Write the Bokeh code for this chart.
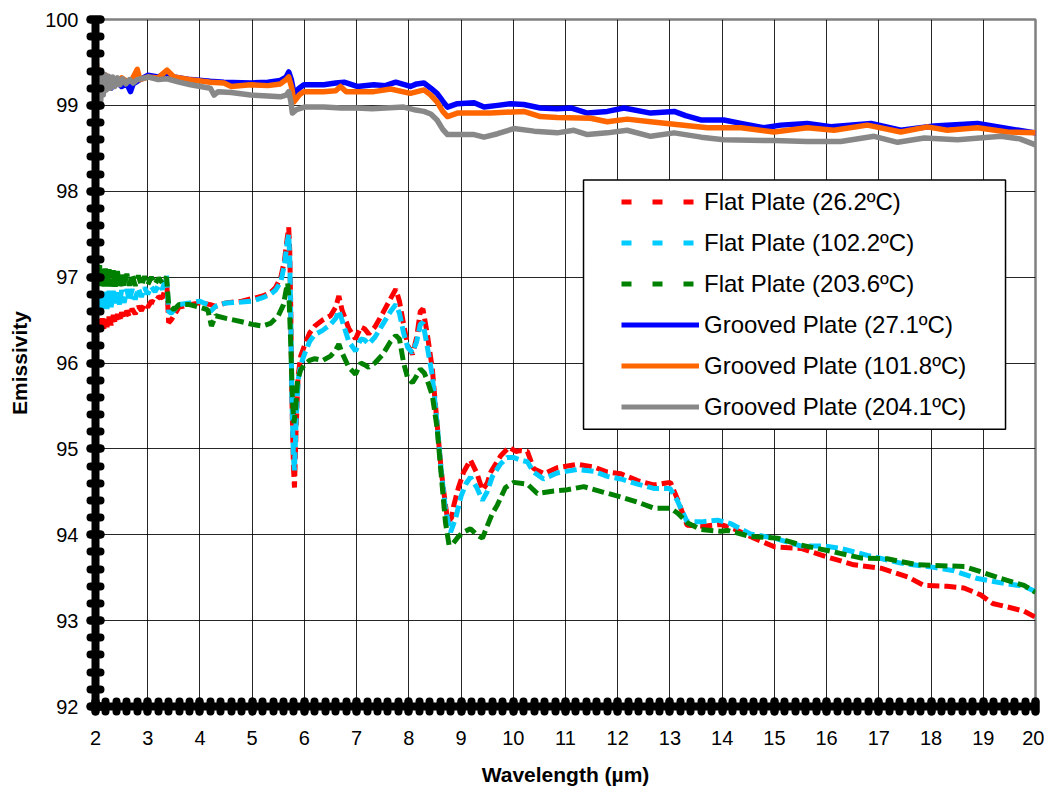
from bokeh.plotting import figure
from bokeh.models import Range1d, SingleIntervalTicker, Legend, LegendItem, BoxAnnotation
from bokeh.embed import file_html
from bokeh.resources import INLINE

# ---------------- data ----------------
wl_flat_26 = [2.00, 2.02, 2.04, 2.06, 2.08, 2.10, 2.13, 2.16, 2.19, 2.22, 2.26, 2.30, 2.34, 2.38, 2.42,
              2.46, 2.50, 2.55, 2.60, 2.65, 2.70, 2.76, 2.82, 2.88, 2.94, 3.00, 3.07, 3.14, 3.21, 3.28,
              3.33, 3.36, 3.40, 3.45, 3.60, 3.80, 4.00, 4.20, 4.30, 4.50, 4.80,
              5.00, 5.20, 5.35, 5.45, 5.55, 5.62, 5.67, 5.70, 5.72, 5.74, 5.76, 5.79, 5.81, 5.84,
              5.88, 5.93, 6.00, 6.10, 6.20, 6.35, 6.50, 6.60, 6.66, 6.72, 6.85, 6.98, 7.08, 7.15,
              7.23, 7.35, 7.50, 7.65, 7.75, 7.82, 7.90, 7.98, 8.07, 8.15, 8.22, 8.27, 8.35, 8.45,
              8.54, 8.62, 8.70, 8.75, 8.82, 8.86, 8.95, 9.05, 9.18, 9.30, 9.41, 9.50, 9.57, 9.76,
              9.92, 10.05, 10.14, 10.27, 10.39, 10.59, 10.84, 11.23, 11.54, 11.80, 12.06, 12.38,
              12.69, 12.90, 13.01, 13.14, 13.33, 13.65, 13.97, 14.22, 14.61, 15.00, 15.51, 16.02,
              16.52, 17.04, 17.55, 17.86, 18.31, 18.63, 18.95, 19.18, 19.46, 19.78, 20.00]
em_flat_26 = [96.52, 96.35, 96.52, 96.36, 96.50, 96.37, 96.52, 96.40, 96.53, 96.42, 96.54, 96.44, 96.56, 96.46, 96.57,
              96.48, 96.59, 96.51, 96.61, 96.54, 96.63, 96.57, 96.66, 96.61, 96.69, 96.65, 96.72, 96.70, 96.77, 96.76,
              96.85, 97.00, 96.47, 96.50, 96.65, 96.68, 96.70, 96.68, 96.66, 96.70, 96.72,
              96.75, 96.78, 96.82, 96.88, 97.00, 97.20, 97.45, 97.58, 97.30, 96.60, 95.60, 94.80, 94.55, 95.20,
              95.85, 96.08, 96.20, 96.35, 96.43, 96.50, 96.55, 96.65, 96.78, 96.62, 96.40, 96.28, 96.42, 96.40,
              96.34, 96.42, 96.58, 96.75, 96.86, 96.72, 96.45, 96.20, 96.10, 96.30, 96.60, 96.63, 96.35, 95.93,
              95.30, 94.75, 94.35, 94.15, 94.20, 94.34, 94.55, 94.73, 94.87, 94.72, 94.52, 94.60, 94.73, 94.92,
              95.02, 94.97, 94.98, 94.97, 94.77, 94.71, 94.78, 94.82, 94.79, 94.73, 94.71, 94.63,
              94.58, 94.60, 94.61, 94.42, 94.11, 94.10, 94.12, 94.07, 93.96, 93.86, 93.84, 93.74,
              93.65, 93.61, 93.51, 93.41, 93.40, 93.38, 93.30, 93.20, 93.16, 93.11, 93.04]

wl_flat_102 = [2.00, 2.02, 2.04, 2.06, 2.08, 2.10, 2.13, 2.16, 2.19, 2.22, 2.26, 2.30, 2.34, 2.38, 2.42,
               2.46, 2.50, 2.55, 2.60, 2.65, 2.70, 2.76, 2.82, 2.88, 2.94, 3.00, 3.07, 3.14, 3.21, 3.28,
               3.33, 3.36, 3.40, 3.45, 3.60, 3.80, 4.00, 4.15, 4.20, 4.30, 4.50, 4.80,
               5.00, 5.20, 5.35, 5.45, 5.55, 5.62, 5.67, 5.70, 5.72, 5.74, 5.76, 5.79, 5.81, 5.84,
               5.88, 5.93, 6.00, 6.10, 6.20, 6.35, 6.50, 6.60, 6.66, 6.72, 6.85, 6.98, 7.08, 7.15,
               7.23, 7.35, 7.50, 7.65, 7.75, 7.82, 7.90, 7.98, 8.07, 8.15, 8.22, 8.27, 8.35, 8.45,
               8.54, 8.62, 8.70, 8.80, 8.90, 9.00, 9.10, 9.18, 9.30, 9.41, 9.50, 9.60, 9.75, 9.88,
               10.00, 10.14, 10.27, 10.39, 10.58, 10.84, 11.23, 11.54, 11.80, 12.06, 12.38, 12.69,
               13.00, 13.14, 13.33, 13.60, 13.91, 14.16, 14.54, 15.00, 15.50, 15.95, 16.27, 16.78,
               17.42, 18.05, 18.44, 18.89, 19.34, 19.78, 20.00]
em_flat_102 = [96.83, 96.58, 96.82, 96.59, 96.81, 96.60, 96.82, 96.62, 96.83, 96.63, 96.84, 96.65, 96.84, 96.67, 96.85,
               96.68, 96.85, 96.70, 96.86, 96.72, 96.86, 96.74, 96.87, 96.77, 96.88, 96.80, 96.89, 96.83, 96.91, 96.86,
               96.95, 97.02, 96.60, 96.58, 96.68, 96.70, 96.72, 96.68, 96.60, 96.66, 96.70, 96.71,
               96.72, 96.76, 96.80, 96.85, 96.95, 97.15, 97.40, 97.50, 97.20, 96.50, 95.60, 94.90, 94.75, 95.30,
               95.80, 95.98, 96.10, 96.25, 96.33, 96.38, 96.45, 96.52, 96.61, 96.50, 96.25, 96.14, 96.28, 96.27,
               96.22, 96.30, 96.45, 96.60, 96.68, 96.58, 96.35, 96.18, 96.12, 96.25, 96.45, 96.47, 96.20, 95.85,
               95.30, 94.75, 94.30, 94.03, 94.20, 94.45, 94.60, 94.67, 94.55, 94.40, 94.50, 94.68, 94.82, 94.90,
               94.90, 94.87, 94.85, 94.73, 94.65, 94.72, 94.76, 94.74, 94.68, 94.65, 94.59, 94.54,
               94.54, 94.40, 94.15, 94.15, 94.17, 94.13, 94.01, 93.96, 93.87, 93.87, 93.84, 93.76,
               93.67, 93.62, 93.58, 93.49, 93.44, 93.40, 93.34]

wl_flat_204 = [2.00, 2.02, 2.04, 2.06, 2.08, 2.10, 2.13, 2.16, 2.19, 2.22, 2.26, 2.30, 2.34, 2.38, 2.42,
               2.46, 2.50, 2.55, 2.60, 2.65, 2.70, 2.76, 2.82, 2.88, 2.94, 3.00, 3.07, 3.14, 3.21, 3.28,
               3.33, 3.36, 3.40, 3.50, 3.60, 3.80, 4.00, 4.15, 4.22, 4.30, 4.50, 4.80,
               5.00, 5.20, 5.35, 5.50, 5.60, 5.65, 5.68, 5.71, 5.74, 5.77, 5.80, 5.83, 5.87, 5.93,
               6.00, 6.10, 6.20, 6.35, 6.50, 6.60, 6.66, 6.72, 6.85, 6.98, 7.08, 7.15, 7.23, 7.35,
               7.50, 7.65, 7.75, 7.82, 7.90, 7.98, 8.07, 8.15, 8.22, 8.30, 8.38, 8.45, 8.54, 8.62,
               8.70, 8.77, 8.85, 8.95, 9.05, 9.18, 9.30, 9.41, 9.50, 9.60, 9.69, 9.85, 10.01, 10.27,
               10.46, 10.78, 11.00, 11.35, 11.70, 12.06, 12.38, 12.69, 13.01, 13.15, 13.33, 13.60,
               13.97, 14.10, 14.54, 15.06, 15.51, 16.14, 16.65, 17.16, 17.74, 18.19, 18.64, 18.95,
               19.34, 19.78, 20.00]
em_flat_204 = [97.20, 96.90, 97.17, 96.90, 97.14, 96.89, 97.12, 96.89, 97.10, 96.89, 97.09, 96.89, 97.08, 96.89, 97.07,
               96.89, 97.06, 96.89, 97.04, 96.90, 97.03, 96.90, 97.02, 96.90, 97.01, 96.91, 97.00, 96.92, 96.99, 96.93,
               96.98, 97.00, 96.68, 96.62, 96.68, 96.68, 96.65, 96.62, 96.43, 96.55, 96.52, 96.48,
               96.45, 96.43, 96.46, 96.55, 96.68, 96.85, 96.93, 96.70, 96.20, 95.60, 95.30, 95.45, 95.80, 95.92,
               95.98, 96.03, 96.05, 96.03, 96.08, 96.15, 96.22, 96.12, 95.95, 95.87, 96.00, 95.98, 95.95, 96.00,
               96.10, 96.25, 96.32, 96.28, 96.00, 95.82, 95.77, 95.85, 95.93, 95.88, 95.75, 95.62, 95.25, 94.70,
               94.15, 93.88, 93.90, 93.98, 94.03, 94.07, 94.00, 93.96, 94.10, 94.25, 94.34, 94.55, 94.61, 94.59,
               94.48, 94.51, 94.52, 94.56, 94.50, 94.44, 94.38, 94.31, 94.31, 94.25, 94.14, 94.06,
               94.04, 94.05, 93.98, 93.96, 93.88, 93.80, 93.73, 93.72, 93.65, 93.64, 93.63, 93.57,
               93.49, 93.41, 93.33]

wl_groove_27 = [2.00, 2.02, 2.04, 2.07, 2.10, 2.14, 2.18, 2.25, 2.30, 2.40, 2.50, 2.60, 2.67, 2.72, 2.85,
                3.00, 3.20, 3.37, 3.50, 3.82, 4.20, 4.46, 4.97, 5.30, 5.54, 5.65, 5.70, 5.75, 5.80, 5.90,
                5.99, 6.37, 6.60, 6.76, 7.01, 7.33, 7.55, 7.75, 8.03, 8.15, 8.29, 8.42, 8.54, 8.65, 8.74,
                8.93, 9.25, 9.44, 9.70, 9.95, 10.20, 10.52, 10.84, 11.10, 11.42, 11.80, 12.12, 12.63,
                13.08, 13.30, 13.59, 14.03, 14.36, 14.80, 15.12, 15.63, 16.08, 16.85, 17.42, 18.06,
                18.89, 19.46, 20.00]
em_groove_27 = [99.00, 99.30, 99.05, 99.30, 99.12, 99.28, 99.18, 99.27, 99.20, 99.28, 99.22, 99.25, 99.16, 99.25, 99.30,
                99.35, 99.33, 99.38, 99.33, 99.30, 99.28, 99.27, 99.26, 99.27, 99.29, 99.33, 99.39, 99.30, 99.14, 99.20,
                99.24, 99.24, 99.26, 99.27, 99.22, 99.24, 99.23, 99.27, 99.22, 99.25, 99.26, 99.20, 99.14, 99.05, 98.98,
                99.02, 99.03, 98.98, 99.00, 99.02, 99.01, 98.97, 98.96, 98.97, 98.91, 98.93, 98.97, 98.91,
                98.93, 98.88, 98.83, 98.83, 98.79, 98.74, 98.77, 98.79, 98.75, 98.79, 98.71, 98.76,
                98.79, 98.73, 98.68]

wl_groove_102 = [2.00, 2.02, 2.04, 2.06, 2.09, 2.12, 2.16, 2.20, 2.25, 2.30, 2.40, 2.50, 2.60, 2.70, 2.80, 2.85,
                 3.00, 3.20, 3.37, 3.50, 3.82, 4.20, 4.46, 4.60, 4.97, 5.30, 5.54, 5.65, 5.70, 5.76, 5.80,
                 5.90, 5.99, 6.37, 6.60, 6.69, 6.80, 7.33, 7.65, 8.03, 8.29, 8.42, 8.54, 8.65, 8.74, 8.93,
                 9.56, 10.20, 10.52, 10.84, 11.48, 11.80, 12.18, 12.63, 13.08, 13.72, 14.36, 14.99, 15.63,
                 16.14, 16.78, 17.42, 17.93, 18.31, 18.89, 19.46, 20.00]
em_groove_102 = [99.25, 99.48, 99.15, 99.42, 99.18, 99.38, 99.22, 99.35, 99.25, 99.32, 99.25, 99.32, 99.28, 99.30, 99.42, 99.30,
                 99.33, 99.32, 99.41, 99.33, 99.30, 99.27, 99.26, 99.22, 99.24, 99.23, 99.25, 99.30, 99.33, 99.20, 99.04,
                 99.12, 99.16, 99.16, 99.17, 99.22, 99.16, 99.16, 99.19, 99.14, 99.18, 99.12, 99.04, 98.93, 98.87, 98.91,
                 98.91, 98.93, 98.87, 98.86, 98.85, 98.81, 98.84, 98.81, 98.78, 98.74, 98.74, 98.69, 98.74,
                 98.71, 98.77, 98.69, 98.75, 98.71, 98.74, 98.69, 98.68]

wl_groove_204 = [2.00, 2.02, 2.04, 2.06, 2.08, 2.10, 2.12, 2.15, 2.18, 2.21, 2.25, 2.29, 2.33, 2.37, 2.42,
                 2.47, 2.52, 2.58, 2.65, 2.72, 2.80,
                 3.02, 3.20, 3.37, 3.60, 3.82, 4.20, 4.27, 4.35, 4.60, 4.97, 5.30, 5.54, 5.65, 5.70, 5.74,
                 5.77, 5.85, 6.00, 6.37, 6.70, 7.01, 7.30, 7.55, 7.90, 8.10, 8.29, 8.42, 8.54, 8.65, 8.74,
                 9.00, 9.25, 9.44, 9.70, 10.01, 10.40, 10.84, 11.16, 11.42, 11.80, 12.18, 12.63, 13.08,
                 13.60, 14.03, 14.99, 15.63, 16.27, 16.91, 17.36, 17.87, 18.51, 19.34, 19.70, 20.00]
em_groove_204 = [99.45, 99.00, 99.42, 98.98, 99.40, 99.05, 99.38, 99.12, 99.36, 99.18, 99.34, 99.20, 99.33, 99.22, 99.32,
                 99.24, 99.31, 99.25, 99.30, 99.26, 99.30,
                 99.33, 99.30, 99.31, 99.27, 99.24, 99.20, 99.12, 99.16, 99.15, 99.12, 99.11, 99.10, 99.12, 99.16, 99.05,
                 98.91, 98.95, 98.98, 98.98, 98.97, 98.97, 98.96, 98.97, 98.98, 98.95, 98.93, 98.90, 98.83, 98.72, 98.66,
                 98.66, 98.66, 98.63, 98.67, 98.73, 98.70, 98.68, 98.71, 98.66, 98.68, 98.71, 98.64, 98.68,
                 98.63, 98.60, 98.59, 98.58, 98.58, 98.64, 98.57, 98.62, 98.60, 98.64, 98.61, 98.54]

labels = ["Flat Plate (26.2\u00baC)", "Flat Plate (102.2\u00baC)", "Flat Plate (203.6\u00baC)",
          "Grooved Plate (27.1\u00baC)", "Grooved Plate (101.8\u00baC)", "Grooved Plate (204.1\u00baC)"]
colors = ["#FF0000", "#00CCFF", "#008000", "#0000FF", "#FF6600", "#888888"]

FONT = "Liberation Sans"
NAN = float("nan")

# ---------------- figure ----------------
p = figure(width=1044, height=788, output_backend="svg", toolbar_location=None,
           x_range=Range1d(2, 20), y_range=Range1d(92, 100),
           min_border_left=95, min_border_right=9, min_border_top=19, min_border_bottom=80)
p.background_fill_color = "white"
p.border_fill_color = "white"
p.outline_line_color = "#808080"
p.outline_line_width = 2.5

xt = SingleIntervalTicker(interval=1, num_minor_ticks=5)
yt = SingleIntervalTicker(interval=1, num_minor_ticks=5)
p.xaxis.ticker = xt
p.yaxis.ticker = yt
p.xgrid.ticker = xt
p.ygrid.ticker = yt
for g in (p.xgrid[0], p.ygrid[0]):
    g.grid_line_color = "#000000"
    g.grid_line_width = 1
    g.grid_line_alpha = 0.85

for ax in (p.xaxis[0], p.yaxis[0]):
    ax.axis_line_color = "black"
    ax.axis_line_width = 8
    for kind in ("major", "minor"):
        setattr(ax, f"{kind}_tick_line_color", "black")
        setattr(ax, f"{kind}_tick_line_width", 8)
        setattr(ax, f"{kind}_tick_line_cap", "round")
        setattr(ax, f"{kind}_tick_in", 5)
        setattr(ax, f"{kind}_tick_out", 5)
    ax.major_label_text_font = FONT
    ax.major_label_text_font_size = "20px"
    ax.major_label_text_color = "black"
    ax.axis_label_text_font = FONT
    ax.axis_label_text_font_size = "21px"
    ax.axis_label_text_font_style = "bold"
    ax.axis_label_text_color = "black"

p.xaxis.axis_label = "Wavelength (\u00b5m)"
p.yaxis.axis_label = "Emissivity"
p.xaxis.major_label_standoff = 19
p.yaxis.major_label_standoff = 12
p.xaxis.axis_label_standoff = 15
p.yaxis.axis_label_standoff = 11

# ---------------- series ----------------
flat = [(wl_flat_26, em_flat_26), (wl_flat_102, em_flat_102), (wl_flat_204, em_flat_204)]
groove = [(wl_groove_27, em_groove_27), (wl_groove_102, em_groove_102), (wl_groove_204, em_groove_204)]

for (xs, ys), c in zip(flat, colors[:3]):
    p.line(xs, ys, line_color=c, line_width=5, line_dash="12 5")
for (xs, ys), c in zip(groove, colors[3:]):
    p.line(xs, ys, line_color=c, line_width=5.5, line_join="round", line_cap="round")

# legend-only renderers (nothing drawn in the plot) so the key swatches match the reference pattern
key_renderers = []
for i, c in enumerate(colors):
    if i < 3:
        r = p.line(x=[NAN, NAN], y=[NAN, NAN], line_color=c, line_width=5, line_dash="10 21")
    else:
        r = p.line(x=[NAN, NAN], y=[NAN, NAN], line_color=c, line_width=5)
    key_renderers.append(r)

# legend frame (data coordinates of the box corners)
box = BoxAnnotation(left=11.345, right=19.426, top=98.131, bottom=95.228,
                    fill_color="white", fill_alpha=1.0,
                    line_color="black", line_width=1.5, line_alpha=1.0)
p.add_layout(box)

legend = Legend(items=[LegendItem(label=l, renderers=[r]) for l, r in zip(labels, key_renderers)],
                location=(526, 284), padding=0, margin=0, spacing=10,
                label_height=31, glyph_height=31, glyph_width=78, label_standoff=5,
                label_text_font=FONT, label_text_font_size="24px", label_text_color="black",
                border_line_alpha=0, background_fill_alpha=0)
p.add_layout(legend)

open("out.html", "w").write(file_html(p, INLINE))
